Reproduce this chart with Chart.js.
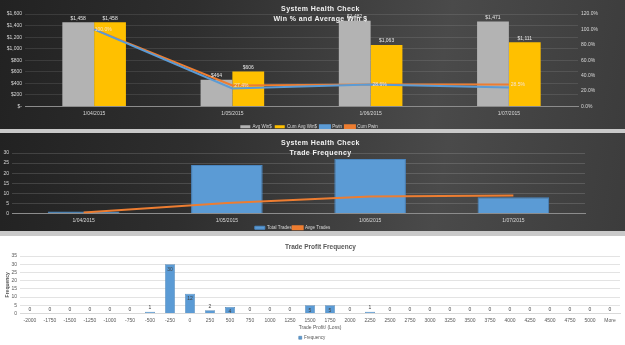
<!DOCTYPE html>
<html>
<head>
<meta charset="utf-8">
<script src="https://cdn.jsdelivr.net/npm/chart.js@4.4.1/dist/chart.umd.min.js"></script>
<style>
  body { margin: 0; background: #c9c9c9; width: 625px; height: 345px; overflow: hidden; position: relative; font-family: "Liberation Sans", Arial, sans-serif; }
  .panel { position: absolute; left: 0; width: 625px; overflow: hidden; }
  .dark { background: linear-gradient(100deg, #222 0%, #2e2e2e 30%, #4a4a4a 70%, #3c3c3c 100%); }
  #p1 { top: 0; height: 129px; }
  #p2 { top: 133px; height: 98px; }
  #p3 { top: 236px; height: 109px; background: #fff; }
  canvas { position: absolute; left: 0; top: 0; }
  .title { position: absolute; left: 0; width: 625px; text-align: center; font-weight: bold; pointer-events: none; }
  .dark .title { color: #f2f2f2; font-size: 7px; line-height: 10px; letter-spacing: 0.4px; }
  #p3 .title { color: #595959; font-size: 6.5px; line-height: 8px; }
</style>
</head>
<body>
<div class="panel dark" id="p1">
  <canvas id="winChart" width="625" height="129"></canvas>
  <div class="title" style="top:4px; padding-left:8px">System Health Check<br>Win % and Average Win $</div>
</div>
<div class="panel dark" id="p2">
  <canvas id="freqChart" width="625" height="98"></canvas>
  <div class="title" style="top:5px; padding-left:8px">System Health Check<br>Trade Frequency</div>
</div>
<div class="panel" id="p3">
  <canvas id="profitChart" width="625" height="109"></canvas>
  <div class="title" style="top:7px; padding-left:8px">Trade Profit Frequency</div>
</div>
<script>
// --- data ---
const months = ["1/04/2015", "1/05/2015", "1/06/2015", "1/07/2015"];
const avgWin = [1458, 464, 1482, 1471];
const cumAvgWin = [1458, 606, 1063, 1111];
const pwin = [100, 23.5, 28.5, 24.8];
const cumPwin = [100, 27.4, 28.6, 28.5];

const totalTrades = [1, 24, 27, 8];
const avgeTrades = [0.5, 5.2, 8.4, 8.9];

const profitBins = ["-2000", "-1750", "-1500", "-1250", "-1000", "-750", "-500", "-250", "0", "250",
  "500", "750", "1000", "1250", "1500", "1750", "2000", "2250", "2500", "2750",
  "3000", "3250", "3500", "3750", "4000", "4250", "4500", "4750", "5000", "More"];
const frequency = [0, 0, 0, 0, 0, 0, 1, 30, 12, 2, 4, 0, 0, 0, 5, 5, 0, 1, 0, 0, 0, 0, 0, 0, 0, 0, 0, 0, 0, 0];

const FONT = "Liberation Sans";
Chart.defaults.font.family = FONT;
Chart.defaults.animation = false;

// draws value labels for datasets that have a labelFmt
const valueLabels = {
  id: "valueLabels",
  afterDatasetsDraw(chart) {
    const ctx = chart.ctx;
    chart.data.datasets.forEach((ds, i) => {
      if (!ds.labelFmt) return;
      const meta = chart.getDatasetMeta(i);
      ctx.save();
      ctx.font = "5px " + FONT;
      ctx.fillStyle = ds.labelColor;
      ctx.textAlign = "center";
      ctx.textBaseline = "middle";
      meta.data.forEach((el, j) => {
        const v = ds.data[j];
        let y = el.y + (ds.labelDy || 0);
        if (ds.labelInside && v >= ds.labelInside) y = el.y + 5;
        ctx.fillText(ds.labelFmt(v), el.x + (ds.labelDx || 0), y);
      });
      ctx.restore();
    });
  }
};

const byIndex = (a, b) => a.datasetIndex - b.datasetIndex;
const money = v => v === 0 ? "$-" : "$" + v.toLocaleString("en-US");

// ---- chart 1: win % and average win $ ----
new Chart(document.getElementById("winChart"), {
  type: "bar",
  plugins: [valueLabels],
  data: {
    labels: months,
    datasets: [
      { label: "Avg Win$", data: avgWin, backgroundColor: "#b3b3b3", order: 2, yAxisID: "y",
        categoryPercentage: 0.46, barPercentage: 1, labelFmt: money, labelColor: "#e6e6e6", labelDy: -4 },
      { label: "Cum Avg Win$", data: cumAvgWin, backgroundColor: "#ffc000", order: 2, yAxisID: "y",
        categoryPercentage: 0.46, barPercentage: 1, labelFmt: money, labelColor: "#e6e6e6", labelDy: -4 },
      { type: "line", label: "Pwin", data: pwin, borderColor: "#5b9bd5", backgroundColor: "#5b9bd5",
        borderWidth: 2, pointRadius: 0, order: 1, yAxisID: "y1" },
      { type: "line", label: "Cum Pwin", data: cumPwin, borderColor: "#ed7d31", backgroundColor: "#ed7d31",
        borderWidth: 2, pointRadius: 0, order: 1, yAxisID: "y1",
        labelFmt: v => v.toFixed(1) + "%", labelColor: "#f4e2d0", labelDx: 9 }
    ]
  },
  options: {
    responsive: false,
    // negative bottom padding pulls the legend down to the panel edge
    layout: { padding: { top: 14, right: 7, bottom: -10, left: 0 } },
    plugins: {
      legend: { position: "bottom", labels: { color: "#d9d9d9", font: { size: 4.5 }, boxWidth: 10, boxHeight: 3, padding: 3, sort: byIndex } },
      tooltip: { enabled: false }
    },
    scales: {
      x: { grid: { display: false, drawTicks: false }, border: { color: "#8c8c8c" },
        ticks: { color: "#d9d9d9", font: { size: 5 }, padding: 4 }, afterFit: s => { s.height = 15; } },
      y: { min: 0, max: 1600, ticks: { stepSize: 200, autoSkip: false, color: "#d9d9d9", font: { size: 5 }, callback: money },
        grid: { color: "rgba(255,255,255,0.1)", drawTicks: false }, border: { display: false },
        afterFit: s => { s.width = 25; } },
      y1: { position: "right", min: 0, max: 120, ticks: { stepSize: 20, autoSkip: false, color: "#d9d9d9", font: { size: 5 }, callback: v => v.toFixed(1) + "%" },
        grid: { drawOnChartArea: false, drawTicks: false }, border: { display: false },
        afterFit: s => { s.width = 40; } }
    }
  }
});

// ---- chart 2: trade frequency ----
new Chart(document.getElementById("freqChart"), {
  type: "bar",
  data: {
    labels: months,
    datasets: [
      { label: "Total Trades", data: totalTrades, backgroundColor: "#5b9bd5", borderColor: "#4a86c0", borderWidth: 1,
        order: 2, categoryPercentage: 0.5, barPercentage: 1 },
      { type: "line", label: "Avge Trades", data: avgeTrades, borderColor: "#ed7d31", backgroundColor: "#ed7d31",
        borderWidth: 2, pointRadius: 0, order: 1 }
    ]
  },
  options: {
    responsive: false,
    layout: { padding: { top: 20, right: 40, bottom: -9, left: 0 } },
    plugins: {
      legend: { position: "bottom", labels: { color: "#d9d9d9", font: { size: 4.5 }, boxWidth: 10, boxHeight: 3, padding: 1, sort: byIndex } },
      tooltip: { enabled: false }
    },
    scales: {
      x: { grid: { display: false, drawTicks: false }, border: { color: "#8c8c8c" },
        ticks: { color: "#d9d9d9", font: { size: 5 }, padding: 4 }, afterFit: s => { s.height = 11; } },
      y: { min: 0, max: 30, ticks: { stepSize: 5, autoSkip: false, color: "#d9d9d9", font: { size: 5 } },
        grid: { color: "rgba(255,255,255,0.14)", drawTicks: false }, border: { display: false },
        afterFit: s => { s.width = 12; } }
    }
  }
});

// ---- chart 3: trade profit frequency ----
new Chart(document.getElementById("profitChart"), {
  type: "bar",
  plugins: [valueLabels],
  data: {
    labels: profitBins,
    datasets: [
      { label: "Frequency", data: frequency, backgroundColor: "#5b9bd5", borderColor: "#41719c", borderWidth: 0.5,
        categoryPercentage: 0.5, barPercentage: 1, labelFmt: v => String(v), labelColor: "#404040", labelDy: -4, labelInside: 4 }
    ]
  },
  options: {
    responsive: false,
    layout: { padding: { top: 20, right: 5, bottom: -5, left: 4 } },
    plugins: {
      legend: { position: "bottom", labels: { color: "#595959", font: { size: 4.5 }, boxWidth: 3, boxHeight: 3, padding: 4 } },
      tooltip: { enabled: false }
    },
    scales: {
      x: { grid: { display: false, drawTicks: false }, border: { color: "#d9d9d9" },
        ticks: { color: "#595959", font: { size: 5 }, padding: 4, autoSkip: false, maxRotation: 0 },
        title: { display: true, text: "Trade Profit/ (Loss)", color: "#595959", font: { size: 5 }, padding: 1 },
        afterFit: s => { s.height = 18; } },
      y: { min: 0, max: 35, ticks: { stepSize: 5, autoSkip: false, color: "#595959", font: { size: 5 } },
        grid: { color: "#e3e3e3", drawTicks: false }, border: { display: false },
        title: { display: true, text: "Frequency", color: "#595959", font: { size: 5, weight: "bold" }, padding: 1 },
        afterFit: s => { s.width = 16; } }
    }
  }
});
</script>
</body>
</html>
